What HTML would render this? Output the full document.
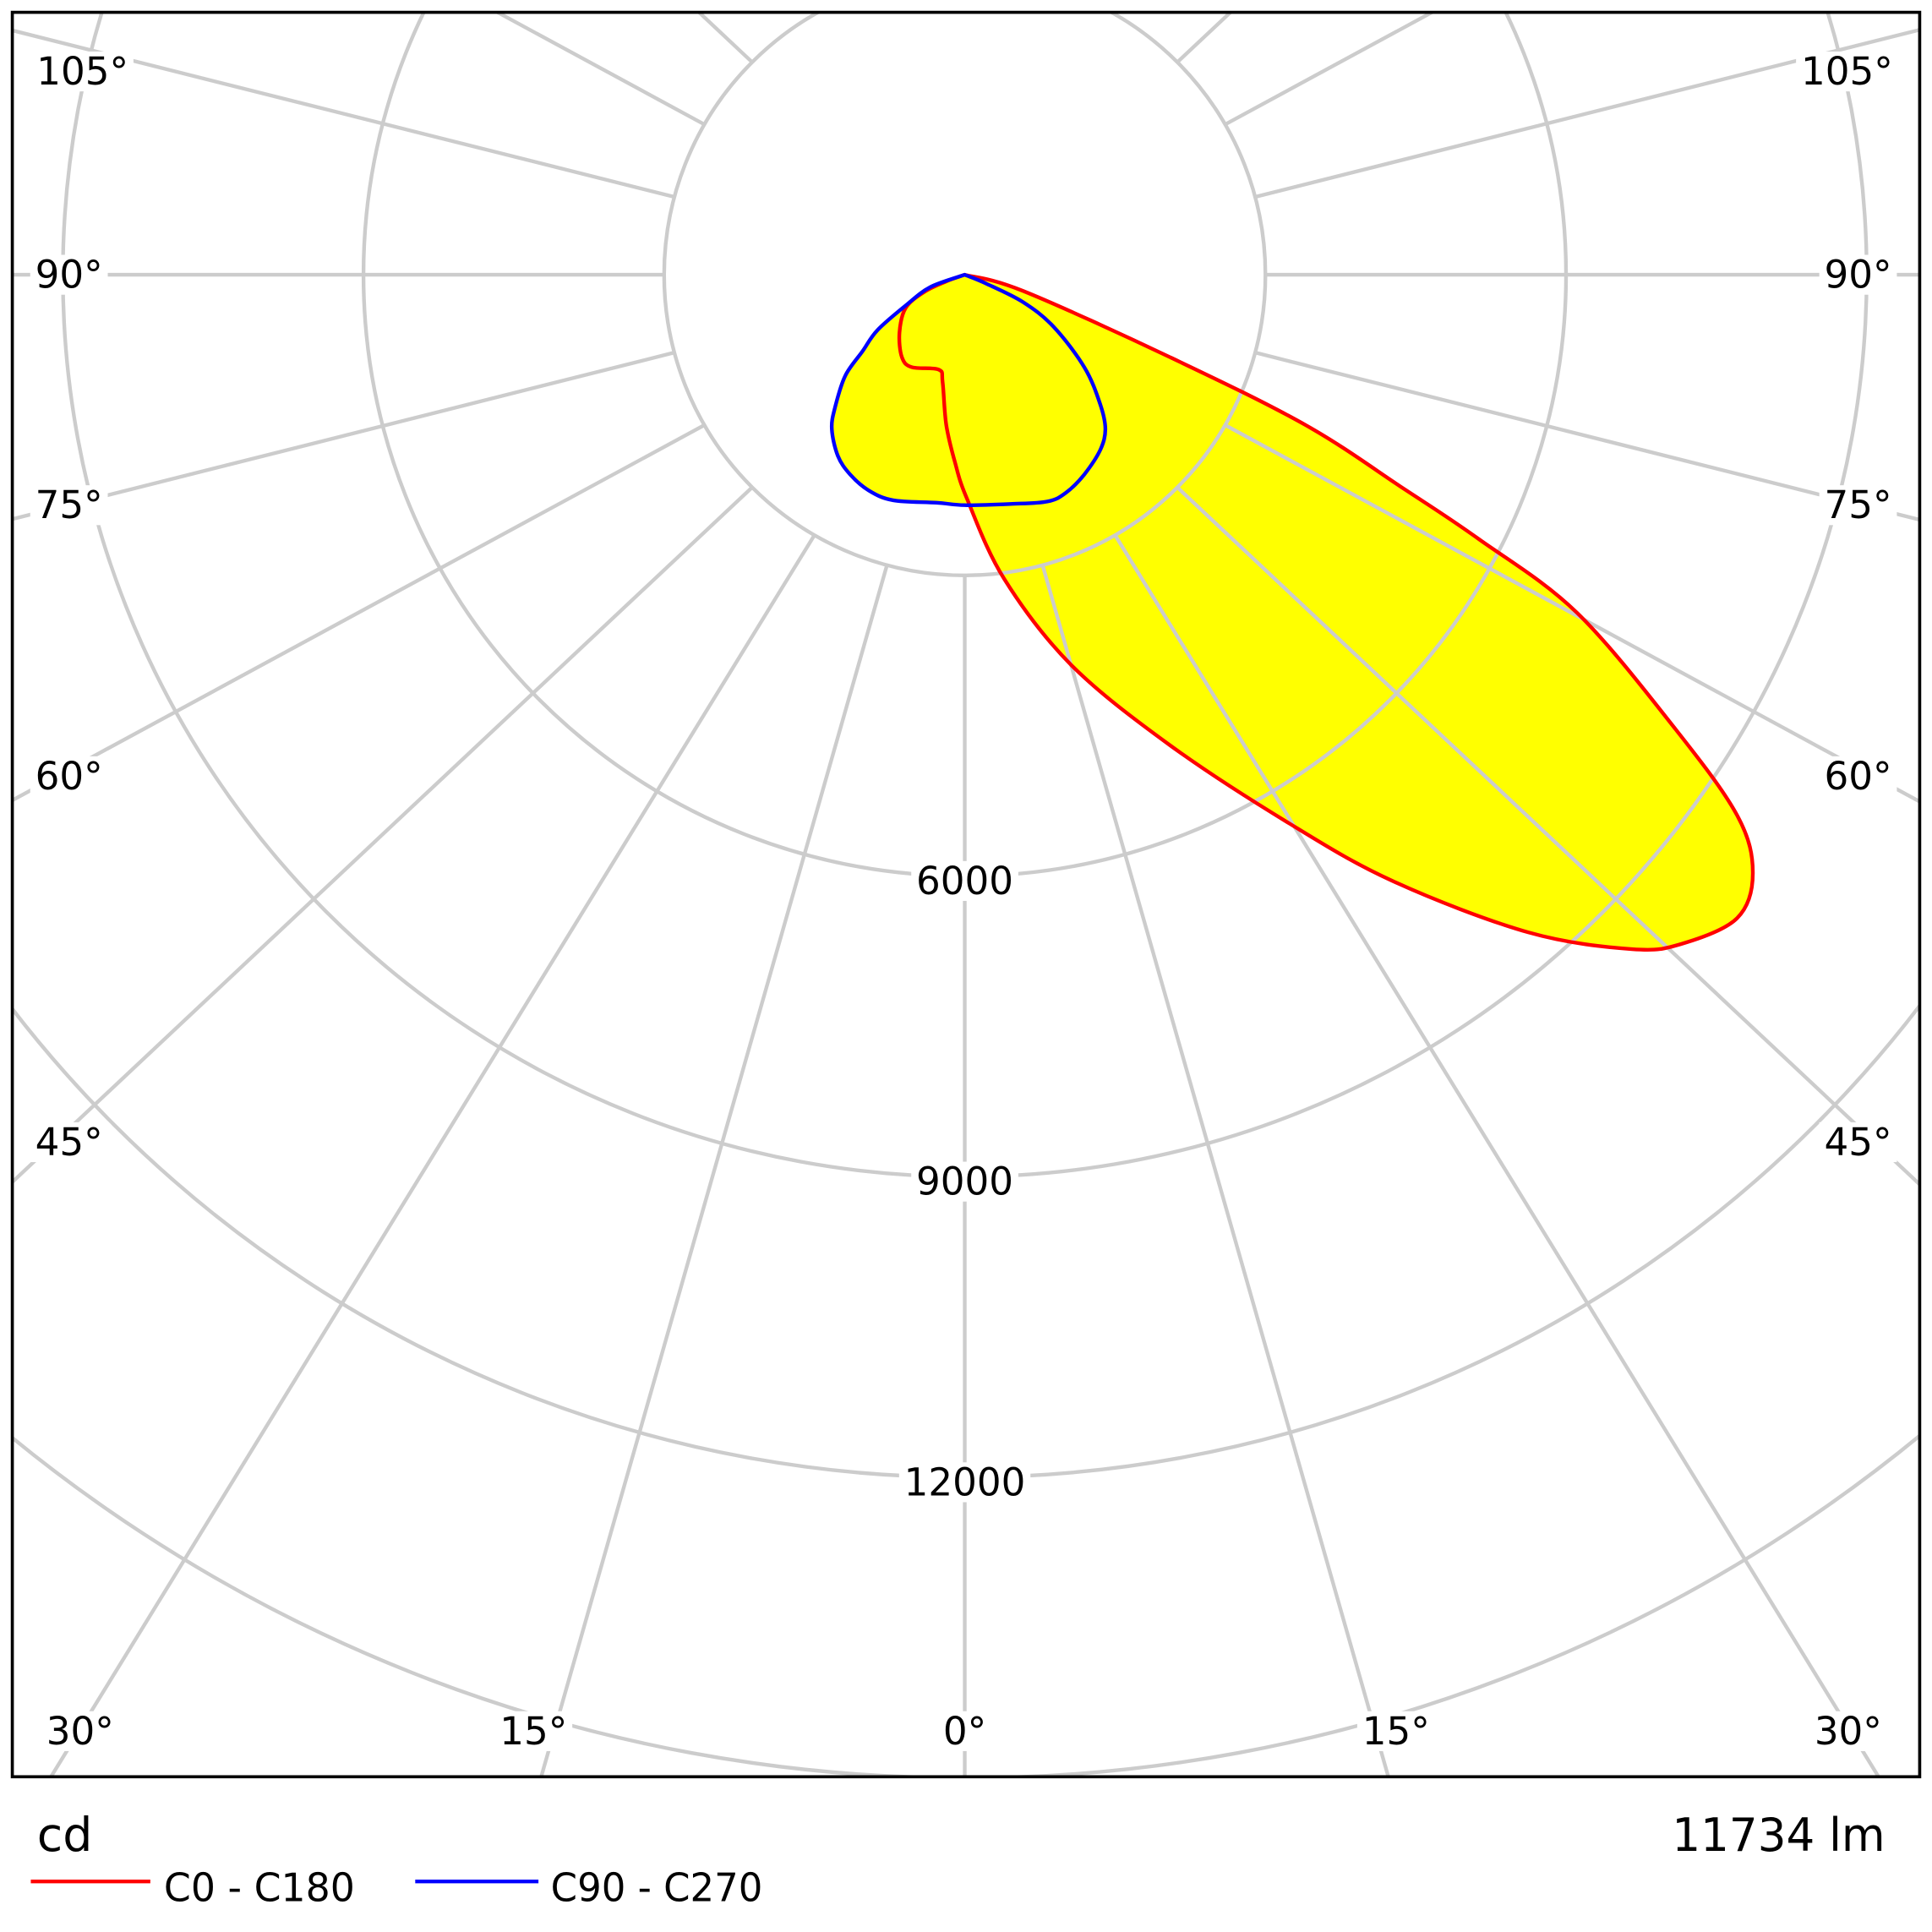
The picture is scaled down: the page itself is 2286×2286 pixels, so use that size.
<!DOCTYPE html>
<html><head><meta charset="utf-8"><style>
html,body{margin:0;padding:0;background:#fff;width:2286px;height:2286px;overflow:hidden;}
svg{display:block;}
text{font-family:"DejaVu Sans","Liberation Sans",sans-serif;}
</style></head><body>
<svg id="chart" width="2286" height="2286" viewBox="0 0 1568 1568" xmlns="http://www.w3.org/2000/svg">
<defs><clipPath id="frameClip"><rect x="10" y="10" width="1548" height="1432"/></clipPath></defs>
<rect x="0" y="0" width="1568" height="1568" fill="#fff"/>
<g id="fills" clip-path="url(#frameClip)"></g>
<g id="grid" clip-path="url(#frameClip)"></g>
<g id="labels"></g>
<g id="curves" clip-path="url(#frameClip)"></g>
<rect x="10" y="10" width="1548" height="1432" fill="none" stroke="#000" stroke-width="2.5"/>
<text x="30" y="1502" font-size="38">cd</text>
<text x="1530" y="1502" font-size="37" text-anchor="end" textLength="173" lengthAdjust="spacingAndGlyphs">11734 lm</text>
<line x1="25" y1="1527" x2="122" y2="1527" stroke="#ff0000" stroke-width="3"/>
<text x="133" y="1543" font-size="32" textLength="155" lengthAdjust="spacingAndGlyphs">C0 - C180</text>
<line x1="337" y1="1527" x2="437" y2="1527" stroke="#0000ff" stroke-width="3"/>
<text x="447" y="1543" font-size="32" textLength="172" lengthAdjust="spacingAndGlyphs">C90 - C270</text>
</svg>
<script>
// C0-C180 plane: signed gamma (negative = C180 side), luminous intensity cd
const c0Gamma = [-90,-70.3,-67,-60.6,-48.4,-37.3,-29.8,-15.3,-11.7,-7,-3,0.6,7.4,15.3,23.6,30.5,35.2,40.6,44.7,47,50.2,52.8,55,57.4,61.1,62.8,64,66.2,68.1,74.5,90];
const c0Values = [0,200,441,677,871,1035,1063,981,1092,1511,1871,2238,3063,4041,5127,6338,7402,8642,9467,9787,10031,9873,9411,8421,6978,5763,4883,3722,2213,600,0];
// C90-C270 plane
const c90Gamma = [-90,-70.3,-62.5,-57.6,-53.2,-49.8,-44.5,-40.8,-35,-29.9,-24,-17.6,-7.1,0,11.25,20,24.9,30.9,37.8,42.4,46.3,52.3,59.7,64.9,67.6,90];
const c90Values = [0,366,665,1033,1274,1562,1843,2031,2207,2297,2356,2361,2292,2299,2332,2408,2398,2322,2208,2080,1869,1508,1025,638,226,0];
const ringValues = [3000,6000,9000,12000,15000,18000];
const ringLabels = ["6000","9000","12000"];
const spokeAngles = [-165,-150,-135,-120,-105,-90,-75,-60,-45,-30,-15,0,15,30,45,60,75,90,105,120,135,150,165,180];

const NS="http://www.w3.org/2000/svg";
const cx=783, cy=223, pxPerCd=244/3000;
function px(g,v){const a=g*Math.PI/180;return [cx+v*pxPerCd*Math.sin(a), cy+v*pxPerCd*Math.cos(a)];}
function pathFor(gs,vs){
  const P=gs.map((g,i)=>px(g,vs[i]));
  const n=P.length; let d='M'+P[0][0].toFixed(1)+','+P[0][1].toFixed(1);
  for(let i=0;i<n-1;i++){
    const p0=P[Math.max(i-1,0)],p1=P[i],p2=P[i+1],p3=P[Math.min(i+2,n-1)];
    const t=1/6;
    const c1=[p1[0]+(p2[0]-p0[0])*t,p1[1]+(p2[1]-p0[1])*t];
    const c2=[p2[0]-(p3[0]-p1[0])*t,p2[1]-(p3[1]-p1[1])*t];
    d+='C'+c1[0].toFixed(1)+','+c1[1].toFixed(1)+' '+c2[0].toFixed(1)+','+c2[1].toFixed(1)+' '+p2[0].toFixed(1)+','+p2[1].toFixed(1);
  }
  return d+'Z';
}

const fills=document.getElementById('fills'), grid=document.getElementById('grid'), labels=document.getElementById('labels'), curves=document.getElementById('curves');

[[c0Gamma,c0Values,'fill-c0-c180'],[c90Gamma,c90Values,'fill-c90-c270']].forEach(([g,v,n])=>{
  const p=document.createElementNS(NS,'path');
  p.setAttribute('d',pathFor(g,v));p.setAttribute('fill','#ffff00');
  
  
  fills.appendChild(p);
});

ringValues.forEach(r=>{
  const c=document.createElementNS(NS,'circle');
  c.setAttribute('cx',cx);c.setAttribute('cy',cy);c.setAttribute('r',r*pxPerCd);
  c.setAttribute('fill','none');c.setAttribute('stroke','#cccccc');c.setAttribute('stroke-width','3');
  
  
  grid.appendChild(c);
});
const xStretch=1.065;
spokeAngles.forEach(a=>{
  const p1=px(a,3000);
  const r=a*Math.PI/180;
  const dx=Math.sin(r)*xStretch, dy=Math.cos(r);
  const L=3000/Math.hypot(dx,dy);
  const l=document.createElementNS(NS,'line');
  l.setAttribute('x1',p1[0]);l.setAttribute('y1',p1[1]);l.setAttribute('x2',p1[0]+dx*L);l.setAttribute('y2',p1[1]+dy*L);
  l.setAttribute('stroke','#cccccc');l.setAttribute('stroke-width','3');
  
  
  grid.appendChild(l);
});

function label(txt,x,y,anchor,name){
  const t=document.createElementNS(NS,'text');
  t.setAttribute('x',x);t.setAttribute('y',y);t.setAttribute('font-size','31');
  t.setAttribute('text-anchor',anchor);t.setAttribute('dominant-baseline','central');
  t.textContent=txt;
  
  
  labels.appendChild(t);
  const b=t.getBBox();
  const r=document.createElementNS(NS,'rect');
  r.setAttribute('x',b.x-4);r.setAttribute('y',b.y+2);r.setAttribute('width',b.width+8);r.setAttribute('height',b.height-4);
  r.setAttribute('fill','#fff');
  
  
  labels.insertBefore(r,t);
}
ringLabels.forEach(s=>{const p=px(0,+s);label(s,cx,p[1]+4,'middle','ring-label-'+s);});
label('0°',783,1405,'middle','angle-label-0');
label('15°',1133,1405,'middle','angle-label-15-right');
label('15°',433,1405,'middle','angle-label-15-left');
label('30°',1500,1405,'middle','angle-label-30-right');
label('30°',65,1405,'middle','angle-label-30-left');
[['45°',927],['60°',630],['75°',410],['90°',223],['105°',58]].forEach(([s,y])=>{
  label(s,s==='105°'?67:56,y,'middle','angle-label-'+s.replace('°','')+'-left');
  label(s,s==='105°'?1499:1508,y,'middle','angle-label-'+s.replace('°','')+'-right');
});

[[c0Gamma,c0Values,'#ff0000','curve-c0-c180'],[c90Gamma,c90Values,'#0000ff','curve-c90-c270']].forEach(([g,v,col,n])=>{
  const p=document.createElementNS(NS,'path');
  p.setAttribute('d',pathFor(g,v));p.setAttribute('fill','none');p.setAttribute('stroke',col);
  p.setAttribute('stroke-width','3');p.setAttribute('stroke-linejoin','round');
  
  
  curves.appendChild(p);
});
</script>
</body></html>
